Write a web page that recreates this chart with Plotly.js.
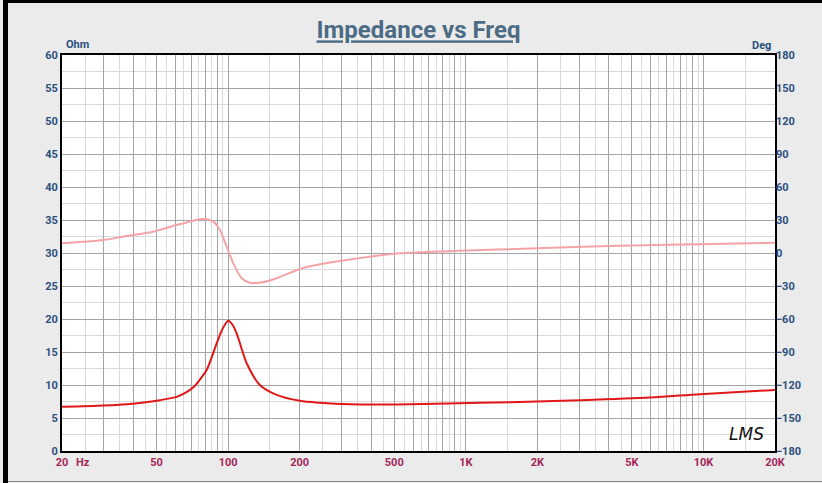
<!DOCTYPE html>
<html>
<head>
<meta charset="utf-8">
<script src="https://cdn.plot.ly/plotly-3.0.1.min.js"></script>
<style>
  html, body { margin: 0; padding: 0; background: #ebebeb; }
  #wrap { position: relative; width: 822px; height: 483px; background: #ebebeb; overflow: hidden; }
  #chart { position: absolute; left: 0; top: 0; width: 822px; height: 483px; }
  .bar { position: absolute; pointer-events: none; }
</style>
</head>
<body>
<div id="wrap">
  <div id="chart"></div>
  <div class="bar" style="left:3px;top:0;width:5px;height:483px;background:#000;"></div>
  <div class="bar" style="left:3px;top:0;width:819px;height:3px;background:#000;"></div>
  <div class="bar" style="left:8px;top:481px;width:814px;height:1px;background:#8a8a8a;"></div>
</div>
<script>
// ---- data ----
const impFreq = [20, 30, 37.4, 45, 51.6, 60.8, 66, 71.4, 76, 81.3, 89.5, 95, 100.2, 104, 108.7, 114, 119.7, 136, 160, 200, 243.6, 326, 512, 832, 1535, 3027, 5957, 9667, 20000];
const impOhm  = [6.7, 6.9, 7.1, 7.4, 7.7, 8.2, 8.8, 9.65, 10.8, 12.3, 16.3, 18.6, 19.75, 19.2, 17.8, 15.5, 13.3, 10.0, 8.5, 7.6, 7.3, 7.07, 7.05, 7.2, 7.4, 7.7, 8.1, 8.6, 9.25];

const phFreq = [20, 29.8, 37.4, 48.4, 54, 60.8, 71.4, 78.6, 86.6, 92.4, 98.6, 105.2, 114, 123.6, 136, 160, 200, 243.6, 300, 529, 886, 2000, 4046, 9667, 20000];
const phDeg  = [8.8, 11.8, 15.5, 19.4, 22.3, 25.5, 29.4, 30.9, 28.5, 20.9, 5.7, -9.4, -23, -27, -27, -23, -14.5, -10.3, -7, -0.3, 1.8, 4.3, 6.4, 7.9, 9.4];

const xMajorVals = [20,30,40,50,60,70,80,90,100,200,300,400,500,600,700,800,900,1000,2000,3000,4000,5000,6000,7000,8000,9000,10000,20000];
const xMajorText = ["20","","","50","","","","","100","200","","","500","","","","","1K","2K","","","5K","","","","","10K","20K"];
const xMinorVals = [25,35,45,55,65,75,85,95,150,250,350,450,550,650,750,850,950,1500,2500,3500,4500,5500,6500,7500,8500,9500,15000];

const leftTicks  = [0,5,10,15,20,25,30,35,40,45,50,55,60];
const rightTicks = [-180,-150,-120,-90,-60,-30,0,30,60,90,120,150,180];

const narrow = "Liberation Sans Narrow, Arial Narrow, Roboto, sans-serif";
const blue = "#2b4f7e";
const maroon = "#a3255a";

const traces = [
  { x: phFreq, y: phDeg, yaxis: "y2", type: "scatter", mode: "lines",
    line: { color: "#f4a3a6", width: 2, shape: "spline", smoothing: 0.8 }, hoverinfo: "skip" },
  { x: impFreq, y: impOhm, type: "scatter", mode: "lines",
    line: { color: "#e01818", width: 2, shape: "spline", smoothing: 0.8 }, hoverinfo: "skip" }
];

const layout = {
  width: 822, height: 483,
  margin: { l: 62, r: 47, t: 55, b: 32 },
  paper_bgcolor: "rgba(0,0,0,0)",
  plot_bgcolor: "#ffffff",
  showlegend: false,
  title: {
    text: "<b>Impedance vs Freq</b>",
    x: 0.5, xref: "paper", xanchor: "center",
    y: 1 - 30/483, yref: "container", yanchor: "middle",
    font: { family: narrow, size: 24, color: "#4c6b84", lineposition: "under" }
  },
  xaxis: {
    type: "log",
    range: [Math.log10(20), Math.log10(20000)],
    tickmode: "array", tickvals: xMajorVals, ticktext: xMajorText,
    showgrid: true, gridcolor: "#a4a4a4", gridwidth: 1,
    minor: { tickmode: "array", tickvals: xMinorVals, showgrid: true, gridcolor: "#d9d9d9", gridwidth: 1, ticks: "" },
    showline: true, linecolor: "#000", linewidth: 2, mirror: true,
    ticks: "", zeroline: false,
    tickfont: { family: narrow, size: 11, color: maroon, weight: "bold" },
    fixedrange: true
  },
  yaxis: {
    range: [0, 60],
    tickmode: "array", tickvals: leftTicks,
    showgrid: true, gridcolor: "#a4a4a4", gridwidth: 1,
    minor: { dtick: 2.5, showgrid: true, gridcolor: "#d9d9d9", gridwidth: 1, ticks: "" },
    showline: true, linecolor: "#000", linewidth: 2, mirror: true,
    ticks: "", zeroline: false,
    tickfont: { family: narrow, size: 11, color: blue, weight: "bold" },
    fixedrange: true
  },
  yaxis2: {
    range: [-180, 180], overlaying: "y", side: "right",
    tickmode: "array", tickvals: rightTicks,
    showgrid: false, zeroline: false, ticks: "",
    tickfont: { family: narrow, size: 11, color: blue, weight: "bold" },
    fixedrange: true
  },
  annotations: [
    { text: "<b>Hz</b>", xref: "paper", yref: "paper", x: 0, y: 0, xanchor: "left", yanchor: "top",
      xshift: 12, yshift: -3, showarrow: false, font: { family: narrow, size: 11, color: maroon } },
    { text: "<b>Ohm</b>", xref: "paper", yref: "paper", x: 0, y: 1, xanchor: "left", yanchor: "bottom",
      xshift: 2, yshift: 2, showarrow: false, font: { family: narrow, size: 11, color: blue } },
    { text: "<b>Deg</b>", xref: "paper", yref: "paper", x: 1, y: 1, xanchor: "right", yanchor: "bottom",
      xshift: -2, yshift: 1, showarrow: false, font: { family: narrow, size: 11, color: blue } },
    { text: "<i>LMS</i>", xref: "paper", yref: "paper", x: 1, y: 0, xanchor: "right", yanchor: "bottom",
      xshift: -9, yshift: 5, showarrow: false, font: { family: "DejaVu Sans, sans-serif", size: 17, color: "#111" } }
  ]
};

Plotly.newPlot("chart", traces, layout, { staticPlot: true, displayModeBar: false });
</script>
</body>
</html>
